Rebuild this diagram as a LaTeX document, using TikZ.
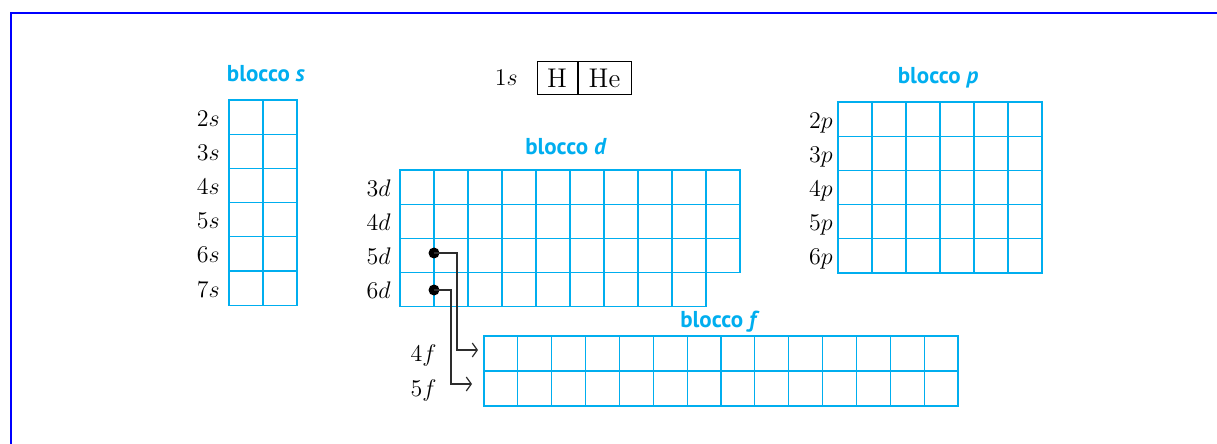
\documentclass[tikz,border=0pt]{standalone}
\usepackage{fontspec}
\newfontfamily\labelfont{PT Sans}
\usetikzlibrary{arrows.meta}
\definecolor{gridcyan}{RGB}{0,174,239}
\definecolor{framebl}{RGB}{0,0,255}
\definecolor{linkgray}{RGB}{45,45,45}

\begin{document}
\begin{tikzpicture}[x=0.5pt, y=-0.5pt,
  cell/.style={draw=gridcyan, line width=0.6pt},
  blocklabel/.style={font=\labelfont\fontsize{11.5}{13}\selectfont\bfseries, text=gridcyan},
  rowlabel/.style={anchor=base east, font=\fontsize{13}{15}\selectfont, inner sep=0pt},
  elem/.style={draw=black, line width=0.5pt, minimum height=16.5pt,
               font=\fontsize{13.5}{15}\selectfont, inner sep=0pt},
  dot/.style={circle, fill=black, inner sep=0pt, minimum size=5.5pt},
  link/.style={draw=linkgray, line width=0.6pt},
  arr/.style={link, -{Straight Barb[length=2.5pt,width=7pt]}}
]
  \useasboundingbox (0,0) rectangle (1217,444);
  \draw[framebl, line width=1pt] (11,444) -- (11,13) -- (1217,13);

  % 1s
  \node[rowlabel] (one-s) at (518,86) {$1s$};
  \node[elem, minimum width=20pt] (h) at (557,78.5) {H};
  \node[elem, minimum width=26.5pt, anchor=west] (he) at (h.east) {He};

  % blocco s
  \node[blocklabel] (blocco-s) at (266,74) {blocco \textit{s}};
  \foreach \r in {0,...,5}
    \foreach \c in {0,1}
      \draw[cell] (229+34*\c,100+34.2*\r) rectangle ++(34,34.2);
  \foreach \n [count=\i from 0] in {2,...,7}
    \node[rowlabel] (s\n) at (220,{100+34.2*(\i+0.5)+9}) {$\n s$};

  % blocco d
  \node[blocklabel] (blocco-d) at (566,147) {blocco \textit{d}};
  \foreach \r in {0,1,2}
    \foreach \c in {0,...,9}
      \draw[cell] (400+34*\c,170+34.2*\r) rectangle ++(34,34.2);
  \foreach \c in {0,...,8}
    \draw[cell] (400+34*\c,272.6) rectangle ++(34,34.2);
  \foreach \n [count=\i from 0] in {3,...,6}
    \node[rowlabel] (d\n) at (391,{170+34.2*(\i+0.5)+9}) {$\n d$};

  % blocco p
  \node[blocklabel] (blocco-p) at (938,78) {blocco \textit{p}};
  \foreach \r in {0,...,4}
    \foreach \c in {0,...,5}
      \draw[cell] (838+34*\c,102+34.2*\r) rectangle ++(34,34.2);
  \foreach \n [count=\i from 0] in {2,...,6}
    \node[rowlabel] (p\n) at (833,{102+34.2*(\i+0.5)+9}) {$\n p$};

  % blocco f
  \node[blocklabel] (blocco-f) at (720,322) {blocco \textit{f}};
  \foreach \r in {0,1}
    \foreach \c in {0,...,13}
      \draw[cell] (484+33.86*\c,336+35*\r) rectangle ++(33.86,35);
  \foreach \n [count=\i from 0] in {4,5}
    \node[rowlabel] (f\n) at (437,{336+35*(\i+0.5)+8}) {$\n f$};

  % collegamenti d -> f
  \node[dot] (dot5d) at (434,253) {};
  \node[dot] (dot6d) at (434,290) {};
  \coordinate (in4f) at (478,350);
  \coordinate (in5f) at (472,384);
  \draw[arr] (dot5d.center) -- ++(23,0) |- (in4f);
  \draw[arr] (dot6d.center) -- ++(17,0) |- (in5f);
\end{tikzpicture}
\end{document}
